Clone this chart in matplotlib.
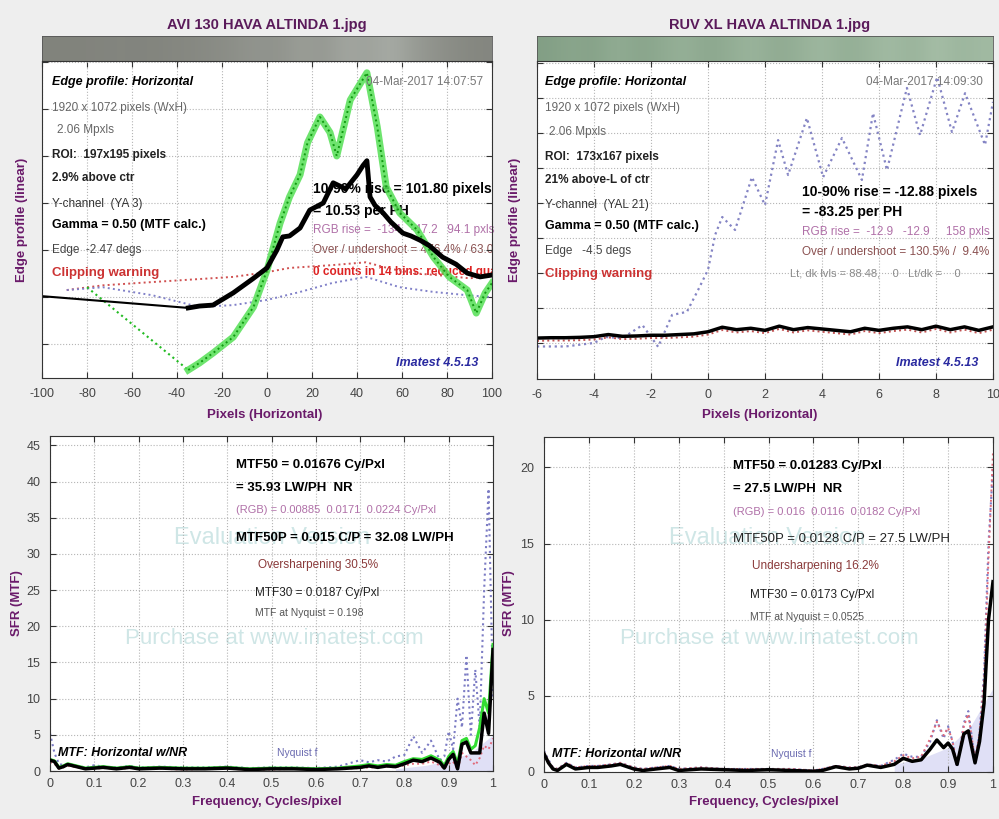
import matplotlib
matplotlib.use('Agg')
import matplotlib.pyplot as plt
from matplotlib.colors import LinearSegmentedColormap
import numpy as np

plt.rcParams['font.family'] = ['Liberation Sans', 'DejaVu Sans']
plt.rcParams['axes.unicode_minus'] = False

# ---------------- data ----------------
titles = ['AVI 130 HAVA ALTINDA 1.jpg', 'RUV XL HAVA ALTINDA 1.jpg']

# edge strips (relative brightness, left to right)
strip_left = [0.30, 0.30, 0.31, 0.32, 0.31, 0.33, 0.35, 0.38, 0.42, 0.48, 0.45,
              0.58, 0.50, 0.66, 0.60, 0.72, 0.55, 0.45, 0.38, 0.33]
strip_right = [0.35, 0.45, 0.38, 0.55, 0.42, 0.50, 0.60, 0.45, 0.55, 0.65, 0.50,
               0.58, 0.70, 0.55, 0.62, 0.75, 0.60, 0.80, 0.65, 0.72]

# top-left edge profile
tl_black_x = [-100, -35, -30, -24, -15, -6, 0, 4.4, 7, 10, 14.7, 19, 25, 29.4, 35, 40,
              42.7, 44.4, 45.8, 48, 51.6, 55, 60.4, 64, 68, 72, 78, 84, 89, 94.7, 100]
tl_black_y = [1.02, 0.77, 0.81, 0.83, 1.09, 1.4, 1.62, 2.0, 2.28, 2.3, 2.47, 2.85, 3.0,
              3.43, 3.3, 3.6, 3.8, 3.9, 3.13, 2.95, 2.79, 2.6, 2.36, 2.3, 2.21, 2.1,
              1.85, 1.7, 1.51, 1.43, 1.47]
tl_green_x = [-80, -35, -30, -24, -15, -6, 0, 5.8, 10, 14.7, 18, 23.5, 28, 31, 37, 44.4,
              49, 53, 59, 66.7, 74, 81, 89, 93, 97, 100]
tl_green_y = [1.21, -0.55, -0.4, -0.19, 0.15, 0.79, 1.57, 2.57, 3.13, 3.6, 4.28, 4.83,
              4.5, 4.0, 5.19, 5.77, 4.62, 3.34, 2.79, 2.43, 1.85, 1.43, 1.15, 0.66, 1.09, 1.3]
tl_red_x = [-89, -73, -51, -15, 0, 10, 29, 44, 55, 67, 80, 90, 100]
tl_red_y = [1.15, 1.25, 1.32, 1.43, 1.53, 1.62, 1.68, 1.74, 1.6, 1.5, 1.45, 1.4, 1.45]
tl_blue_x = [-89, -73, -51, -30, -15, 0, 14.7, 29, 44, 59, 74, 89, 100]
tl_blue_y = [1.15, 1.21, 1.04, 0.79, 0.83, 0.94, 1.11, 1.30, 1.43, 1.21, 1.11, 1.04, 1.0]

# top-right edge profile
tr_x = [-6, -5.5, -5, -4.5, -4, -3.5, -3, -2.5, -2, -1.5, -1, -0.5, 0, 0.5, 1, 1.5, 2,
        2.5, 3, 3.5, 4, 4.5, 5, 5.5, 6, 6.5, 7, 7.5, 8, 8.5, 9, 9.5, 10]
tr_black_y = [0.14, 0.15, 0.15, 0.16, 0.18, 0.24, 0.19, 0.2, 0.22, 0.22, 0.24, 0.26,
              0.32, 0.45, 0.38, 0.42, 0.36, 0.48, 0.38, 0.44, 0.4, 0.36, 0.32, 0.42,
              0.36, 0.42, 0.46, 0.38, 0.48, 0.38, 0.46, 0.36, 0.46]
tr_blue_x = [-6, -5, -4.5, -4, -3.6, -3.0, -2.3, -1.75, -1.26, -0.74, -0.35, 0.0, 0.25,
             0.5, 0.95, 1.54, 2.0, 2.46, 2.81, 3.47, 4.04, 4.7, 5.4, 5.79, 6.28, 6.98,
             7.44, 8.04, 8.56, 9.02, 9.72, 10]
tr_blue_y = [-0.1, -0.1, -0.05, 0.0, 0.17, 0.14, 0.51, -0.11, 0.8, 0.89, 1.51, 2.09,
             3.09, 3.6, 3.23, 4.74, 3.94, 5.8, 4.8, 6.43, 4.74, 5.86, 4.66, 6.57, 4.94,
             7.29, 5.94, 7.6, 6.03, 7.14, 5.66, 6.89]

# bottom-left MTF
bl_f = [0, 0.01, 0.02, 0.03, 0.04, 0.06, 0.08, 0.1, 0.12, 0.15, 0.18, 0.2, 0.25, 0.3,
        0.35, 0.4, 0.45, 0.5, 0.55, 0.6, 0.65, 0.7, 0.72, 0.74, 0.76, 0.78, 0.8, 0.82,
        0.84, 0.86, 0.88, 0.89, 0.9, 0.91, 0.92, 0.93, 0.94, 0.95, 0.96, 0.97, 0.98,
        0.99, 1.0]
bl_black = [1.5, 1.3, 0.4, 0.6, 0.9, 0.6, 0.3, 0.4, 0.5, 0.3, 0.5, 0.3, 0.4, 0.3, 0.3,
            0.4, 0.2, 0.3, 0.3, 0.2, 0.3, 0.5, 0.7, 0.5, 0.7, 0.6, 1.0, 1.5, 1.3, 1.8,
            1.2, 0.4, 1.6, 2.3, 0.3, 3.7, 4.0, 2.5, 2.5, 2.5, 8.0, 5.2, 16.8]
bl_green = [1.6, 1.4, 0.5, 0.7, 1.0, 0.7, 0.4, 0.5, 0.6, 0.4, 0.6, 0.4, 0.5, 0.4, 0.4,
            0.5, 0.3, 0.4, 0.4, 0.3, 0.4, 0.7, 0.9, 0.7, 0.9, 0.8, 1.3, 1.7, 1.6, 2.1,
            1.5, 0.7, 2.0, 2.7, 1.0, 4.2, 4.5, 3.0, 3.5, 6.0, 10.0, 8.0, 17.5]
bl_red = [1.2, 1.0, 0.3, 0.5, 0.7, 0.5, 0.3, 0.3, 0.4, 0.3, 0.4, 0.3, 0.3, 0.2, 0.3,
          0.3, 0.2, 0.2, 0.3, 0.2, 0.3, 0.4, 0.5, 0.5, 0.6, 0.5, 0.8, 1.0, 1.0, 1.3,
          0.8, 0.3, 1.0, 1.3, 0.2, 2.5, 2.0, 1.5, 0.8, 1.8, 3.5, 3.0, 4.5]
bl_blue = [5.2, 2.5, 1.0, 0.8, 1.0, 0.7, 0.5, 0.8, 0.6, 0.5, 0.7, 0.5, 0.6, 0.5, 0.5,
           0.6, 0.4, 0.5, 0.5, 0.4, 0.6, 1.5, 1.2, 1.5, 1.3, 2.0, 2.2, 4.8, 2.5, 4.2,
           1.5, 2.0, 5.5, 3.0, 10.0, 6.0, 16.0, 5.0, 14.0, 6.0, 25.0, 39.0, 10.0]
bl_shade_f = [0.78, 0.85, 0.9, 0.95, 0.98, 1.0]
bl_shade = [0.3, 0.8, 1.5, 2.5, 4.0, 5.0]

# bottom-right MTF
br_f = [0, 0.01, 0.02, 0.03, 0.05, 0.07, 0.1, 0.12, 0.15, 0.17, 0.2, 0.22, 0.25, 0.28,
        0.3, 0.35, 0.4, 0.45, 0.5, 0.55, 0.6, 0.62, 0.65, 0.68, 0.7, 0.72, 0.75, 0.78,
        0.8, 0.82, 0.84, 0.86, 0.875, 0.89, 0.9, 0.91, 0.92, 0.935, 0.945, 0.96, 0.97,
        0.98, 0.99, 1.0]
br_black = [1.2, 0.6, 0.2, 0.1, 0.5, 0.2, 0.3, 0.3, 0.4, 0.5, 0.2, 0.1, 0.2, 0.3, 0.1,
            0.2, 0.15, 0.1, 0.15, 0.1, 0.05, 0.1, 0.35, 0.2, 0.25, 0.45, 0.3, 0.5, 0.9,
            0.7, 0.8, 1.5, 2.1, 1.6, 1.9, 1.5, 0.5, 2.5, 2.7, 0.6, 2.0, 4.5, 10.0, 12.5]
br_red = [1.3, 0.7, 0.3, 0.2, 0.6, 0.3, 0.4, 0.4, 0.5, 0.6, 0.3, 0.2, 0.3, 0.4, 0.2,
          0.3, 0.2, 0.2, 0.2, 0.2, 0.1, 0.2, 0.4, 0.3, 0.3, 0.5, 0.4, 0.7, 1.1, 0.9,
          1.0, 2.2, 3.3, 2.4, 2.9, 2.0, 0.4, 3.0, 3.8, 0.8, 2.5, 6.0, 14.0, 21.0]
br_blue = [1.4, 0.8, 0.3, 0.2, 0.6, 0.3, 0.4, 0.4, 0.5, 0.6, 0.3, 0.2, 0.3, 0.4, 0.2,
           0.3, 0.2, 0.2, 0.2, 0.2, 0.1, 0.2, 0.4, 0.3, 0.3, 0.5, 0.4, 0.8, 1.2, 1.0,
           1.0, 2.0, 3.4, 2.2, 3.0, 2.0, 0.3, 3.2, 4.0, 0.7, 2.6, 6.5, 15.0, 20.0]
br_shade_f = [0.78, 0.85, 0.9, 0.95, 0.98, 1.0]
br_shade = [0.5, 1.0, 1.6, 3.0, 4.5, 5.5]

# ---------------- layout helpers (pixel boxes) ----------------
W, H = 999, 819
fig = plt.figure(figsize=(W / 100, H / 100), dpi=100, facecolor='#eeeeee')


def box(x0, y0, x1, y1):
    return [x0 / W, 1 - y1 / H, (x1 - x0) / W, (y1 - y0) / H]


def put(ax, b, px, py, s, **kw):
    x0, y0, x1, y1 = b
    kw.setdefault('va', 'center')
    kw.setdefault('fontsize', 8.5)
    return ax.text((px - x0) / (x1 - x0), 1 - (py - y0) / (y1 - y0), s,
                   transform=ax.transAxes, **kw)


TITLE_C = '#5a1a5a'
LABEL_C = '#6a1a6a'
RGB_C = '#b070a8'
OVER_C = '#8a5050'
GRID = dict(linestyle=':', color='#b5b5b5', linewidth=0.8)


def style(ax):
    ax.set_facecolor('white')
    ax.grid(True, **GRID)
    ax.tick_params(direction='in', top=True, right=True, length=4, pad=7,
                   labelsize=9, labelcolor='#444444', color='#333333')
    for s in ax.spines.values():
        s.set_linewidth(0.8)
        s.set_color('#333333')


cm_gray = LinearSegmentedColormap.from_list('g', ['#66665f', '#c2c8c2'])
cm_green = LinearSegmentedColormap.from_list('gr', ['#66866a', '#b8ceb8'])

b_tl = (42, 61, 492, 378)
b_tr = (537, 61, 993, 379)
b_bl = (50, 436, 493, 771)
b_br = (544, 437, 993, 772)

# strips
for sb, vals, cmap in [((42, 36, 492, 61), strip_left, cm_gray),
                       ((537, 36, 993, 61), strip_right, cm_green)]:
    sa = fig.add_axes(box(*sb))
    sa.imshow(np.array([vals]), aspect='auto', cmap=cmap, vmin=0, vmax=1,
              interpolation='bicubic')
    sa.set_xticks([])
    sa.set_yticks([])
    for s in sa.spines.values():
        s.set_color('#555555')
        s.set_linewidth(0.6)

fig.text(267 / W, 1 - 25 / H, titles[0], ha='center', va='center',
         fontsize=10.5, fontweight='bold', color=TITLE_C)
fig.text(770 / W, 1 - 25 / H, titles[1], ha='center', va='center',
         fontsize=10.5, fontweight='bold', color=TITLE_C)

# ---------------- top-left ----------------
ax = fig.add_axes(box(*b_tl))
style(ax)
ax.plot(tl_red_x, tl_red_y, ':', color='#d05050', lw=1.4)
ax.plot(tl_blue_x, tl_blue_y, ':', color='#8080c8', lw=1.4)
ax.plot(tl_green_x[:2], tl_green_y[:2], ':', color='#22bb22', lw=1.5)
ax.plot(tl_green_x[1:], tl_green_y[1:], '-', color='#55e055', lw=5, alpha=0.85)
ax.plot(tl_green_x[1:], tl_green_y[1:], ':', color='#119911', lw=1.4)
ax.plot(tl_black_x[:2], tl_black_y[:2], '-', color='black', lw=1.5)
ax.plot(tl_black_x[1:], tl_black_y[1:], '-', color='black', lw=3.5)
ax.set_xlim(-100, 100)
ax.set_ylim(-0.72, 6.02)
ax.set_xticks(range(-100, 101, 20))
ax.set_yticks(range(0, 7))
ax.tick_params(labelleft=False)

put(ax, b_tl, 52, 82, 'Edge profile: Horizontal', fontweight='bold', style='italic', fontsize=9)
put(ax, b_tl, 483, 82, '04-Mar-2017 14:07:57', ha='right', color='#777777', fontsize=8.5)
put(ax, b_tl, 52, 108, '1920 x 1072 pixels (WxH)', color='#666666')
put(ax, b_tl, 57, 130, '2.06 Mpxls', color='#666666')
put(ax, b_tl, 52, 155, 'ROI:  197x195 pixels', fontweight='bold', color='#222222')
put(ax, b_tl, 52, 178, '2.9% above ctr', fontweight='bold', color='#222222')
put(ax, b_tl, 52, 204, 'Y-channel  (YA 3)', color='#333333')
put(ax, b_tl, 52, 225, 'Gamma = 0.50 (MTF calc.)', fontweight='bold', fontsize=9)
put(ax, b_tl, 52, 250, 'Edge  -2.47 degs', color='#444444')
put(ax, b_tl, 52, 273, 'Clipping warning', fontweight='bold', color='#cc3333', fontsize=9.5)
put(ax, b_tl, 313, 189, '10-90% rise = 101.80 pixels', fontweight='bold', fontsize=10, zorder=1)
put(ax, b_tl, 313, 211, '= 10.53 per PH', fontweight='bold', fontsize=10, zorder=1)
put(ax, b_tl, 313, 230, 'RGB rise =  -134   -47.2   94.1 pxls', color=RGB_C, zorder=1)
put(ax, b_tl, 313, 250, 'Over / undershoot = 476.4% / 63.0%', color=OVER_C, zorder=1, clip_on=True)
put(ax, b_tl, 313, 272, '0 counts in 14 bins: reduced quality', fontweight='bold',
    color='#dd2222', zorder=1, clip_on=True)
put(ax, b_tl, 478, 363, 'Imatest 4.5.13', ha='right', fontweight='bold', style='italic',
    color='#2a2aa0', fontsize=9)

fig.text(22 / W, 1 - 220 / H, 'Edge profile (linear)', rotation=90, ha='center', va='center',
         fontsize=9.5, fontweight='bold', color=LABEL_C)
fig.text(265 / W, 1 - 415 / H, 'Pixels (Horizontal)', ha='center', va='center',
         fontsize=9.5, fontweight='bold', color=LABEL_C)

# ---------------- top-right ----------------
ax = fig.add_axes(box(*b_tr))
style(ax)
ax.plot(tr_blue_x, tr_blue_y, ':', color='#8484c4', lw=1.6)
ax.plot(tr_x, [v - 0.08 for v in tr_black_y], ':', color='#c05050', lw=1.4)
ax.plot(tr_x, tr_black_y, '-', color='black', lw=2.5)
ax.set_xlim(-6, 10)
ax.set_ylim(-1.03, 8.06)
ax.set_xticks(range(-6, 11, 2))
ax.set_yticks(range(0, 9))
ax.tick_params(labelleft=False)

put(ax, b_tr, 545, 82, 'Edge profile: Horizontal', fontweight='bold', style='italic', fontsize=9)
put(ax, b_tr, 983, 82, '04-Mar-2017 14:09:30', ha='right', color='#777777', fontsize=8.5)
put(ax, b_tr, 545, 108, '1920 x 1072 pixels (WxH)', color='#666666')
put(ax, b_tr, 549, 132, '2.06 Mpxls', color='#666666')
put(ax, b_tr, 545, 157, 'ROI:  173x167 pixels', fontweight='bold', color='#222222')
put(ax, b_tr, 545, 180, '21% above-L of ctr', fontweight='bold', color='#222222')
put(ax, b_tr, 545, 205, 'Y-channel  (YAL 21)', color='#333333')
put(ax, b_tr, 545, 226, 'Gamma = 0.50 (MTF calc.)', fontweight='bold', fontsize=9)
put(ax, b_tr, 545, 251, 'Edge   -4.5 degs', color='#444444')
put(ax, b_tr, 545, 274, 'Clipping warning', fontweight='bold', color='#cc3333', fontsize=9.5)
put(ax, b_tr, 802, 192, '10-90% rise = -12.88 pixels', fontweight='bold', fontsize=10)
put(ax, b_tr, 802, 212, '= -83.25 per PH', fontweight='bold', fontsize=10)
put(ax, b_tr, 802, 232, 'RGB rise =  -12.9   -12.9     158 pxls', color=RGB_C)
put(ax, b_tr, 802, 252, 'Over / undershoot = 130.5% /  9.4%', color=OVER_C)
put(ax, b_tr, 790, 273, 'Lt, dk lvls = 88.48,    0   Lt/dk =    0', color='#8a8a8a', fontsize=8)
put(ax, b_tr, 978, 363, 'Imatest 4.5.13', ha='right', fontweight='bold', style='italic',
    color='#2a2aa0', fontsize=9)

fig.text(515 / W, 1 - 220 / H, 'Edge profile (linear)', rotation=90, ha='center', va='center',
         fontsize=9.5, fontweight='bold', color=LABEL_C)
fig.text(760 / W, 1 - 415 / H, 'Pixels (Horizontal)', ha='center', va='center',
         fontsize=9.5, fontweight='bold', color=LABEL_C)


# ---------------- bottom panels ----------------
def mtf_panel(b, f, black, red, blue, green, sf, shade, ymax, yticks, txt, cx):
    ax = fig.add_axes(box(*b))
    style(ax)
    x0 = b[0]
    put(ax, b, cx, 538, 'Evaluation Version', ha='center', fontsize=17,
        color='#cfe6e6', zorder=0)
    put(ax, b, cx + 2, 639, 'Purchase at www.imatest.com', ha='center', fontsize=16,
        color='#cfe6e6', zorder=0)
    ax.fill_between(sf, 0, shade, color='#e0e0f6', lw=0, zorder=1)
    ax.plot(f, blue, ':', color='#7c7cc4', lw=1.5, zorder=2)
    ax.plot(f, red, ':', color='#e06a7a', lw=1.4, zorder=2)
    if green is not None:
        ax.plot(f, green, '-', color='#33dd33', lw=2.2, zorder=2)
    ax.plot(f, black, '-', color='black', lw=2.5, zorder=3)
    ax.set_xlim(0, 1)
    ax.set_ylim(0, ymax)
    ax.set_xticks(np.arange(0, 1.01, 0.1))
    ax.set_xticklabels(['0', '0.1', '0.2', '0.3', '0.4', '0.5', '0.6', '0.7', '0.8', '0.9', '1'])
    ax.set_yticks(yticks)
    ax.tick_params(axis='x', pad=5)
    for (py, s, kw) in txt:
        put(ax, b, kw.pop('x'), py, s, zorder=4, **kw)
    put(ax, b, x0 + 8, b[3] - 18, 'MTF: Horizontal w/NR', fontweight='bold', style='italic',
        fontsize=9, zorder=4)
    put(ax, b, x0 + 227, b[3] - 18, 'Nyquist f', color='#6a6ab0', fontsize=7.5, zorder=4)
    return ax


txt_l = [
    (465, 'MTF50 = 0.01676 Cy/Pxl', dict(x=236, fontweight='bold', fontsize=9.5)),
    (488, '= 35.93 LW/PH  NR', dict(x=236, fontweight='bold', fontsize=9.5)),
    (510, '(RGB) = 0.00885  0.0171  0.0224 Cy/Pxl', dict(x=236, color=RGB_C, fontsize=8)),
    (538, 'MTF50P = 0.015 C/P = 32.08 LW/PH', dict(x=236, fontweight='bold', fontsize=9.5)),
    (565, 'Oversharpening 30.5%', dict(x=258, color='#8a3a3a', fontsize=8.5)),
    (593, 'MTF30 = 0.0187 Cy/Pxl', dict(x=255, color='#222222', fontsize=8.5)),
    (613, 'MTF at Nyquist = 0.198', dict(x=255, color='#555555', fontsize=7.5)),
]
txt_r = [
    (466, 'MTF50 = 0.01283 Cy/Pxl', dict(x=733, fontweight='bold', fontsize=9.5)),
    (489, '= 27.5 LW/PH  NR', dict(x=733, fontweight='bold', fontsize=9.5)),
    (512, '(RGB) = 0.016  0.0116  0.0182 Cy/Pxl', dict(x=733, color=RGB_C, fontsize=8)),
    (539, 'MTF50P = 0.0128 C/P = 27.5 LW/PH', dict(x=733, color='#222222', fontsize=9.5)),
    (566, 'Undersharpening 16.2%', dict(x=752, color='#8a3a3a', fontsize=8.5)),
    (595, 'MTF30 = 0.0173 Cy/Pxl', dict(x=750, color='#222222', fontsize=8.5)),
    (617, 'MTF at Nyquist = 0.0525', dict(x=750, color='#555555', fontsize=7.5)),
]

mtf_panel(b_bl, bl_f, bl_black, bl_red, bl_blue, bl_green, bl_shade_f, bl_shade,
          46.3, range(0, 46, 5), txt_l, 272)
mtf_panel(b_br, br_f, br_black, br_red, br_blue, None, br_shade_f, br_shade,
          22.0, range(0, 21, 5), txt_r, 767)

for cx, lx in [(267, 17), (764, 509)]:
    fig.text(cx / W, 1 - 802 / H, 'Frequency, Cycles/pixel', ha='center', va='center',
             fontsize=9.5, fontweight='bold', color=LABEL_C)
    fig.text(lx / W, 1 - 603 / H, 'SFR (MTF)', rotation=90, ha='center', va='center',
             fontsize=9.5, fontweight='bold', color=LABEL_C)

fig.savefig('out.png', dpi=100, facecolor=fig.get_facecolor())
